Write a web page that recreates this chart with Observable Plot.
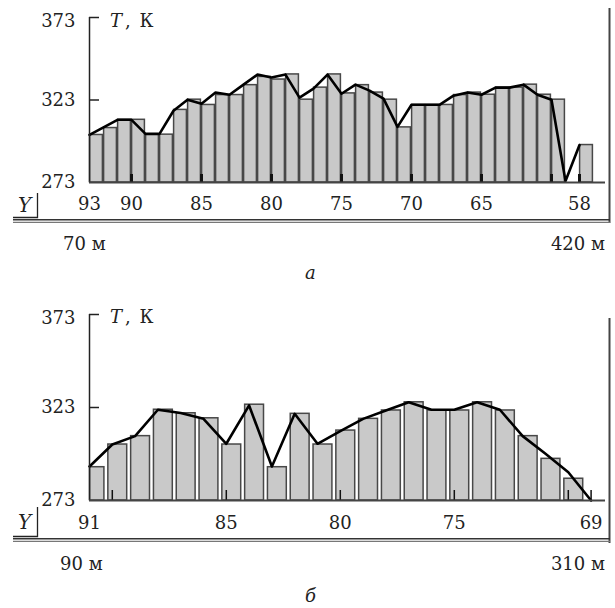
<!DOCTYPE html>
<html><head><meta charset="utf-8">
<script src="https://cdn.jsdelivr.net/npm/d3@7"></script>
<script src="https://cdn.jsdelivr.net/npm/@observablehq/plot@0.6"></script>
<style>
body{margin:0;background:#fff}
#wrap{position:relative;width:615px;height:608px;overflow:hidden;font-family:"DejaVu Serif",serif;color:#222}
#wrap svg.plot{position:absolute;left:0}
#over{position:absolute;left:0;top:0;pointer-events:none}
#over text{font-family:"DejaVu Serif",serif;font-size:18px;fill:#222}
</style></head><body><div id="wrap"></div>
<script>
// ---------- data ----------
const yTicks = [273, 323, 373];
const unitLabel = ["T", ",", "К"];

// panel а
const linePicketsA = [93,92,91,90,89,88,87,86,85,84,83,82,81,80,79,78,77,76,75,74,73,72,71,70,69,68,67,66,65,64,63,62,61,60,59,58];
const lineTempA    = [301.8,306.4,311.0,311.0,302.5,302.5,316.5,323.2,320.7,327.5,326.2,332.3,338.4,336.6,338.4,324.4,329.9,338.4,326.8,332.3,328.7,323.8,306.7,320.1,320.1,320.1,325.6,327.5,326.2,330.5,330.5,332.3,326.2,323.2,273.9,295.7];
const barPicketsA  = [93,92,91,90,89,88,87,86,85,84,83,82,81,80,79,78,77,76,75,74,73,72,71,70,69,68,67,66,65,64,63,62,61,60,58];
const barTempA     = [301.8,306.0,311.0,311.0,302.0,302.0,317.0,323.2,320.0,326.0,326.0,332.0,337.0,335.4,338.5,323.2,330.5,338.5,327.0,332.0,327.5,323.2,306.4,320.0,320.0,320.0,326.0,327.5,326.2,330.5,330.5,332.3,326.2,323.2,295.7];
const xLabelsA     = [93,90,85,80,75,70,65,58];
const innerTicksA  = [90,85,80,75,70,65,60,58];
const distA        = ["70 м", "420 м"];

// panel б
const linePicketsB = [91,90,89,88,87,86,85,84,83,82,81,80,79,78,77,76,75,74,73,72,71,70,69];
const lineTempB    = [291.3,303.1,307.6,321.8,320.0,316.9,303.5,324.1,291.3,319.6,303.5,310.3,316.9,321.4,325.8,321.8,321.8,325.8,321.8,307.6,298.1,288.2,273.0];
const barPicketsB  = [91,90,89,88,87,86,85,84,83,82,81,80,79,78,77,76,75,74,73,72,71,70];
const barTempB     = [290.9,303.1,307.6,321.8,319.9,317.2,303.1,324.5,290.9,319.6,303.1,310.6,316.9,321.4,325.8,321.4,321.4,325.8,321.4,307.6,295.4,284.7];
const xLabelsB     = [91,85,80,75,69];
const innerTicksB  = [90,85,80,75,70,69];
const distB        = ["90 м", "310 м"];

const panelLetters = ["а", "б"];

// ---------- drawing ----------
const wrap = document.getElementById("wrap");
const zip = (a, b) => a.map((n, i) => ({n, t: b[i]}));

function panel(cfg) {
  const {line, bars, labels, inner, x0, ppu, top, height, mTop, mBottom, barX1, barX2, tickW, tickLen, padX} = cfg;
  const width = 615, mLeft = 89, mRight = 10;
  const span = (width - mLeft - mRight) / ppu;
  const yMin = yTicks[0], yMax = yTicks[yTicks.length - 1];
  const kPerPx = (yMax - yMin) / (height - mTop - mBottom);
  const svg = Plot.plot({
    width, height,
    marginLeft: mLeft, marginRight: mRight, marginTop: mTop, marginBottom: mBottom,
    x: {domain: [x0, x0 - span]},
    y: {domain: [yMin, yMax]},
    style: {fontFamily: "DejaVu Serif, serif", fontSize: "18px", background: "transparent", color: "#222", overflow: "visible"},
    marks: [
      Plot.rect(bars, {x1: d => barX1(d.n), x2: d => barX2(d.n), y1: () => yMin, y2: "t",
        fill: "#c9c9c9", stroke: "#484848", strokeWidth: 1.5, insetLeft: 0.6, insetRight: 0.6}),
      Plot.ruleX(inner, {y1: () => yMin, y2: () => yMin + tickLen * kPerPx, stroke: "#111", strokeWidth: tickW}),
      Plot.line(line, {x: "n", y: "t", stroke: "#000", strokeWidth: 2.6, strokeLinejoin: "round"}),
      Plot.ruleX([x0], {y1: () => yMin, y2: () => yMax, stroke: "#222", strokeWidth: 1.5}),
      Plot.ruleY(yTicks.slice(1), {x1: () => x0, x2: () => x0 - 10 / ppu, stroke: "#222", strokeWidth: 1.5}),
      Plot.ruleY([yMin], {stroke: "#444", strokeWidth: 2}),
      Plot.axisY(yTicks.slice(0, 2), {tickSize: 0, tickPadding: 14, label: null}),
      Plot.axisY(yTicks.slice(2), {tickSize: 0, tickPadding: 14, dy: 4, label: null}),
      Plot.axisX(labels, {tickSize: 0, tickPadding: padX, label: null, tickFormat: d => String(d)})
    ]
  });
  svg.classList.add("plot");
  svg.style.top = top + "px";
  wrap.appendChild(svg);
}

panel({
  line: zip(linePicketsA, lineTempA), bars: zip(barPicketsA, barTempA),
  labels: xLabelsA, inner: innerTicksA, x0: linePicketsA[0], ppu: 14,
  top: 0, height: 230, mTop: 17, mBottom: 48,
  barX1: n => n, barX2: n => n - 1, tickW: 3, tickLen: 8, padX: 15
});
panel({
  line: zip(linePicketsB, lineTempB), bars: zip(barPicketsB, barTempB),
  labels: xLabelsB, inner: innerTicksB, x0: linePicketsB[0], ppu: 22.8,
  top: 290, height: 250, mTop: 24, mBottom: 40,
  barX1: n => Math.min(linePicketsB[0], n + 0.2), barX2: n => n - 0.68, tickW: 1.5, tickLen: 10, padX: 16
});

// ---------- decorations & captions ----------
const NS = "http://www.w3.org/2000/svg";
const over = document.createElementNS(NS, "svg");
over.setAttribute("id", "over");
over.setAttribute("width", 615);
over.setAttribute("height", 608);
wrap.appendChild(over);
function el(tag, attrs, text) {
  const e = document.createElementNS(NS, tag);
  for (const k in attrs) e.setAttribute(k, attrs[k]);
  if (text != null) e.textContent = text;
  over.appendChild(e);
  return e;
}
function unit(x, y) {
  const t = el("text", {x, y});
  const parts = [[unitLabel[0], 0, "italic"], [unitLabel[1], 3, "normal"], [" " + unitLabel[2], 3, "normal"]];
  for (const [s, dx, st] of parts) {
    const ts = document.createElementNS(NS, "tspan");
    ts.setAttribute("font-style", st);
    ts.setAttribute("dx", dx);
    ts.textContent = s;
    t.appendChild(ts);
  }
}
function frame(yTop, yBot, yLine, yBr, yBrTop, yLab) {
  el("line", {x1: 609.5, x2: 609.5, y1: yTop, y2: yBot + 1, stroke: "#444", "stroke-width": 2});
  el("line", {x1: 13, x2: 610, y1: yLine, y2: yLine, stroke: "#333", "stroke-width": 1.6});
  el("line", {x1: 13, x2: 610, y1: yLine + 2.6, y2: yLine + 2.6, stroke: "#777", "stroke-width": 1.1});
  el("path", {d: `M13,${yBr}H37.5V${yBrTop}`, fill: "none", stroke: "#222", "stroke-width": 1.3});
  el("text", {x: 18, y: yLab, "font-style": "italic", style: "font-size:20px"}, "Y");
}
unit(110, 27);
unit(110, 323);
frame(8, 222, 219.8, 217.5, 193, 212);
frame(318, 542, 538.8, 536.5, 507, 529);
el("text", {x: 63, y: 250}, distA[0]);
el("text", {x: 605, y: 250, "text-anchor": "end"}, distA[1]);
el("text", {x: 60, y: 570}, distB[0]);
el("text", {x: 605, y: 570, "text-anchor": "end"}, distB[1]);
el("text", {x: 305, y: 279, "font-style": "italic"}, panelLetters[0]);
el("text", {x: 305, y: 602, "font-style": "italic"}, panelLetters[1]);
</script></body></html>
